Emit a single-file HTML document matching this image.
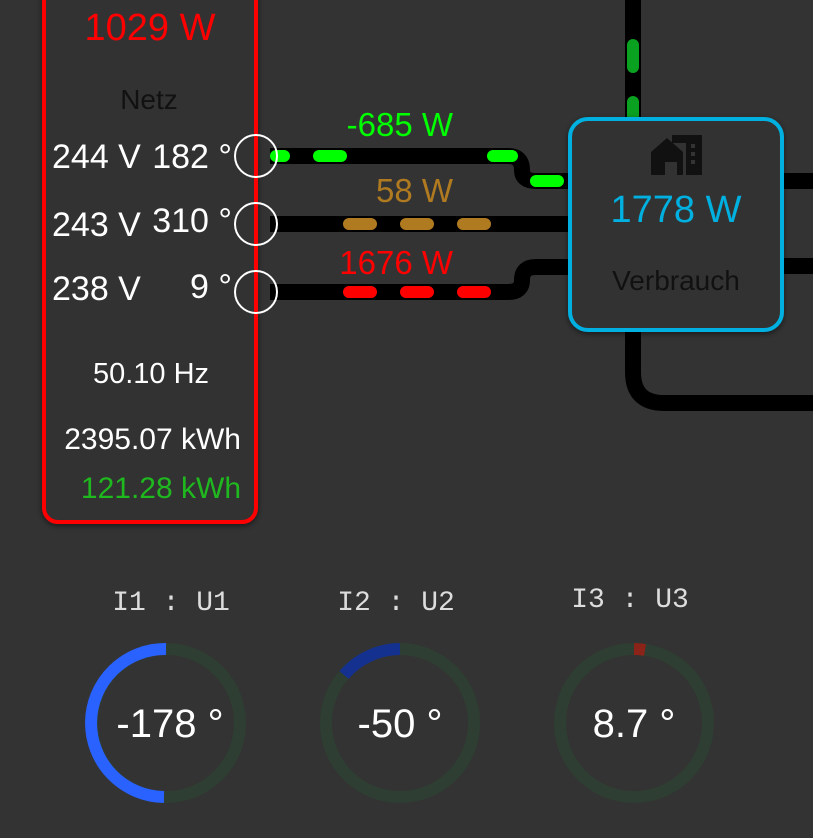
<!DOCTYPE html>
<html><head><meta charset="utf-8"><style>
html,body{margin:0;padding:0;background:#333;width:813px;height:838px;overflow:hidden}
svg{display:block}
text{font-family:"Liberation Sans",sans-serif}
</style></head><body>
<svg width="813" height="838" viewBox="0 0 813 838">
<defs><filter id="sh" x="-20%" y="-20%" width="140%" height="140%"><feDropShadow dx="0" dy="2" stdDeviation="3" flood-color="#000" flood-opacity="0.5"/></filter></defs>
<rect width="813" height="838" fill="#333"/>
<g fill="none" stroke="#000" stroke-width="16">
<path d="M633 0 V118"/>
<path d="M270 156 H508 Q522 156 522 170 Q522 181 536 181 H572"/>
<path d="M270 224 H572"/>
<path d="M270 292 H508 Q522 292 522 280 Q522 267 536 267 H572"/>
<path d="M780 181 H813"/>
<path d="M780 266 H813"/>
<path d="M633 330 V372 Q633 403 664 403 H813"/>
</g>
<g fill="none" stroke-width="12" stroke-linecap="round">
<path d="M633 45 V67 M633 102 V116" stroke="#0aa020"/>
<path d="M276 156 H284 M319 156 H341 M493 156 H512 M536 181 H558" stroke="#00ff00"/>
<path d="M349 224 H371 M406 224 H428 M463 224 H485" stroke="#b07a20"/>
<path d="M349 292 H371 M406 292 H428 M463 292 H485" stroke="#ff0000"/>
</g>
<rect x="44" y="-20" width="212" height="542" rx="14" fill="#333" stroke="#ff0000" stroke-width="4" filter="url(#sh)"/>
<g fill="none" stroke="#fff" stroke-width="2">
<circle cx="256" cy="156" r="21"/><circle cx="256" cy="224" r="21"/><circle cx="256" cy="292" r="21"/>
</g>
<text x="150" y="40" font-size="38" fill="#ff0000" text-anchor="middle">1029 W</text>
<text x="149" y="109" font-size="28" fill="#111" text-anchor="middle">Netz</text>
<g font-size="34" fill="#fff">
<text x="52" y="168">244 V</text><text x="232" y="168" text-anchor="end">182 °</text>
<text x="52" y="236">243 V</text><text x="232" y="232" text-anchor="end">310 °</text>
<text x="52" y="300">238 V</text><text x="232" y="298" text-anchor="end">9 °</text>
</g>
<text x="151" y="383" font-size="29" fill="#fff" text-anchor="middle">50.10 Hz</text>
<text x="241" y="449" font-size="30" fill="#fff" text-anchor="end">2395.07 kWh</text>
<text x="241" y="498" font-size="30" fill="#1fb81f" text-anchor="end">121.28 kWh</text>
<text x="453" y="136" font-size="33" fill="#00ff00" text-anchor="end">-685 W</text>
<text x="453" y="202" font-size="33" fill="#b07a20" text-anchor="end">58 W</text>
<text x="453" y="274" font-size="33" fill="#ff0000" text-anchor="end">1676 W</text>
<rect x="570" y="119" width="212" height="211" rx="18" fill="#333" stroke="#00b0e0" stroke-width="4" filter="url(#sh)"/>
<g fill="#111">
<path d="M651 152 L667 138 L683 152 V175 H677 V162 H665 V175 H651 Z"/>
<rect x="686" y="135" width="16" height="40"/>
<rect x="672" y="135" width="16" height="8"/>
</g>
<g fill="#333"><rect x="691" y="144" width="4" height="4"/><rect x="691" y="152" width="4" height="4"/><rect x="691" y="160" width="4" height="4"/></g>
<text x="676" y="222" font-size="38" fill="#00b0e0" text-anchor="middle">1778 W</text>
<text x="676" y="290" font-size="28" fill="#111" text-anchor="middle">Verbrauch</text>
<g font-size="28" fill="#ddd" text-anchor="middle">
<text x="171" y="610" style="font-family:'Liberation Mono',monospace">I1 : U1</text>
<text x="396" y="610" style="font-family:'Liberation Mono',monospace">I2 : U2</text>
<text x="630" y="607" style="font-family:'Liberation Mono',monospace">I3 : U3</text>
</g>
<g fill="none" stroke-width="12">
<circle cx="166" cy="723" r="74" stroke="#2e3e32"/>
<circle cx="400" cy="723" r="74" stroke="#2e3e32"/>
<circle cx="634" cy="723" r="74" stroke="#2e3e32"/>
<path d="M166 649 A74 74 0 0 0 164 797" stroke="#2962ff"/>
<path d="M400 649 A74 74 0 0 0 344 675" stroke="#15318f"/>
<path d="M634 649 A74 74 0 0 1 645 650" stroke="#8b2318"/>
</g>
<g font-size="40" fill="#fff" text-anchor="middle">
<text x="170" y="737">-178 °</text>
<text x="400" y="737">-50 °</text>
<text x="634" y="737">8.7 °</text>
</g>
</svg>
</body></html>
